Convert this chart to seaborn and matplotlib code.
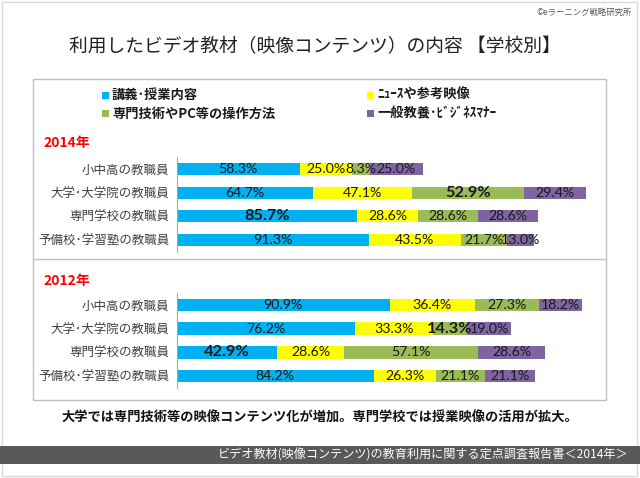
import numpy as np
import pandas as pd
import matplotlib
matplotlib.use("Agg")
import matplotlib.pyplot as plt
from matplotlib.patches import Rectangle
from matplotlib.lines import Line2D
import seaborn as sns

# data
schools = ["小中高の教職員", "大学･大学院の教職員", "専門学校の教職員", "予備校･学習塾の教職員"]
series = ["講義･授業内容", "ﾆｭｰｽや参考映像", "専門技術やPC等の操作方法", "一般教養･ﾋﾞｼﾞﾈｽﾏﾅｰ"]
colors = ["#00B0F0", "#FFFF00", "#9BBB59", "#8064A2"]

lecture_2014 = [58.3, 64.7, 85.7, 91.3]
news_2014 = [25.0, 47.1, 28.6, 43.5]
skill_2014 = [8.3, 52.9, 28.6, 21.7]
general_2014 = [25.0, 29.4, 28.6, 13.0]

lecture_2012 = [90.9, 76.2, 42.9, 84.2]
news_2012 = [36.4, 33.3, 28.6, 26.3]
skill_2012 = [27.3, 14.3, 57.1, 21.1]
general_2012 = [18.2, 19.0, 28.6, 21.1]

# highlighted labels (row, series)
bold_2014 = [(1, 2), (2, 0)]
bold_2012 = [(1, 2), (2, 0)]

sns.set_theme(style="white")
plt.rcParams["font.family"] = ["Noto Sans CJK JP", "DejaVu Sans"]

W, H = 640, 478
fig = plt.figure(figsize=(W / 100, H / 100), dpi=100)


def fx(x):
    return x / W


def fy(y):
    return 1 - y / H


def stacked(ax, vals, xmax, bold):
    df = pd.DataFrame(np.array(vals).T, columns=series)
    df["school"] = schools
    cum = df[series].cumsum(axis=1)
    # draw biggest cumulative first so each segment sits on top
    for i in reversed(range(len(series))):
        sns.barplot(x=cum[series[i]], y=df["school"], color=colors[i], orient="h",
                    width=0.52, saturation=1, ax=ax, linewidth=0)
    for r in range(len(schools)):
        for i, s in enumerate(series):
            v = df.loc[r, s]
            c = cum.loc[r, s] - v / 2
            if (r, i) in bold:
                ax.text(c, r, f"{v:.1f}%", ha="center", va="center", fontsize=11.8,
                        fontweight="bold", color="#1a1a1a", family=["Lato", "DejaVu Sans"])
            else:
                ax.text(c, r, f"{v:.1f}%", ha="center", va="center", fontsize=10.2,
                        color="#1a1a1a", family=["Lato", "DejaVu Sans"])
    ax.set_xlim(0, xmax)
    ax.set_ylim(3.5, -0.5)
    ax.set_xlabel("")
    ax.set_ylabel("")
    ax.set_xticks([])
    for sp in ["top", "right", "bottom"]:
        ax.spines[sp].set_visible(False)
    ax.spines["left"].set_color("#A6A6A6")
    ax.spines["left"].set_linewidth(0.8)
    ax.tick_params(axis="y", length=0, pad=5, labelsize=9, labelcolor="#404040")
    ax.patch.set_alpha(0)


ax1 = fig.add_axes([fx(176.5), fy(251.7), fx(423.5), 94.4 / H])
stacked(ax1, [lecture_2014, news_2014, skill_2014, general_2014], 423.5 / 2.11, bold_2014)

ax2 = fig.add_axes([fx(176.5), fy(388), fx(423.5), 95 / H])
stacked(ax2, [lecture_2012, news_2012, skill_2012, general_2012], 423.5 / 2.345, bold_2012)

# slide frame, panel box and separator
fig.patches.append(Rectangle((fx(2), fy(476)), fx(635), 474 / H, transform=fig.transFigure,
                             fill=False, ec="#D9D9D9", lw=1, zorder=0))
fig.patches.append(Rectangle((fx(33), fy(400)), fx(573), 321 / H, transform=fig.transFigure,
                             fill=False, ec="#BFBFBF", lw=1, zorder=0))
fig.lines.append(Line2D([fx(33), fx(606)], [fy(259.3), fy(259.3)], transform=fig.transFigure,
                        color="#BFBFBF", lw=1))

# legend
leg_pos = [(102, 95), (367, 95), (102, 113.5), (367, 113.5)]
for (lx, ly), s, c in zip(leg_pos, series, colors):
    fig.patches.append(Rectangle((fx(lx), fy(ly + 3.5)), fx(7), 7 / H, transform=fig.transFigure,
                                 fc=c, ec="none"))
    fig.text(fx(lx + 10), fy(ly), s, ha="left", va="center", fontsize=9.5, fontweight="bold",
             color="#1a1a1a")

# year labels
fig.text(fx(43), fy(143), "2014年", ha="left", va="center", fontsize=10, fontweight="bold", color="#FF0000")
fig.text(fx(43), fy(281.5), "2012年", ha="left", va="center", fontsize=10, fontweight="bold", color="#FF0000")

# titles and notes
fig.text(fx(315), fy(47), "利用したビデオ教材（映像コンテンツ）の内容 【学校別】", ha="center", va="center",
         fontsize=13.5, color="#222222")
fig.text(fx(632), fy(12), "©eラーニング戦略研究所", ha="right", va="center", fontsize=6,
         color="#595959")
fig.text(fx(320), fy(418), "大学では専門技術等の映像コンテンツ化が増加。専門学校では授業映像の活用が拡大。",
         ha="center", va="center", fontsize=9.5, fontweight="bold", color="#111111")

fig.patches.append(Rectangle((0, fy(463.5)), 1, 17.8 / H, transform=fig.transFigure,
                             fc="#595959", ec="none"))
fig.text(fx(628), fy(454.5), "ビデオ教材(映像コンテンツ)の教育利用に関する定点調査報告書＜2014年＞",
         ha="right", va="center", fontsize=8.7, color="white")

fig.savefig("out.png", dpi=100)
